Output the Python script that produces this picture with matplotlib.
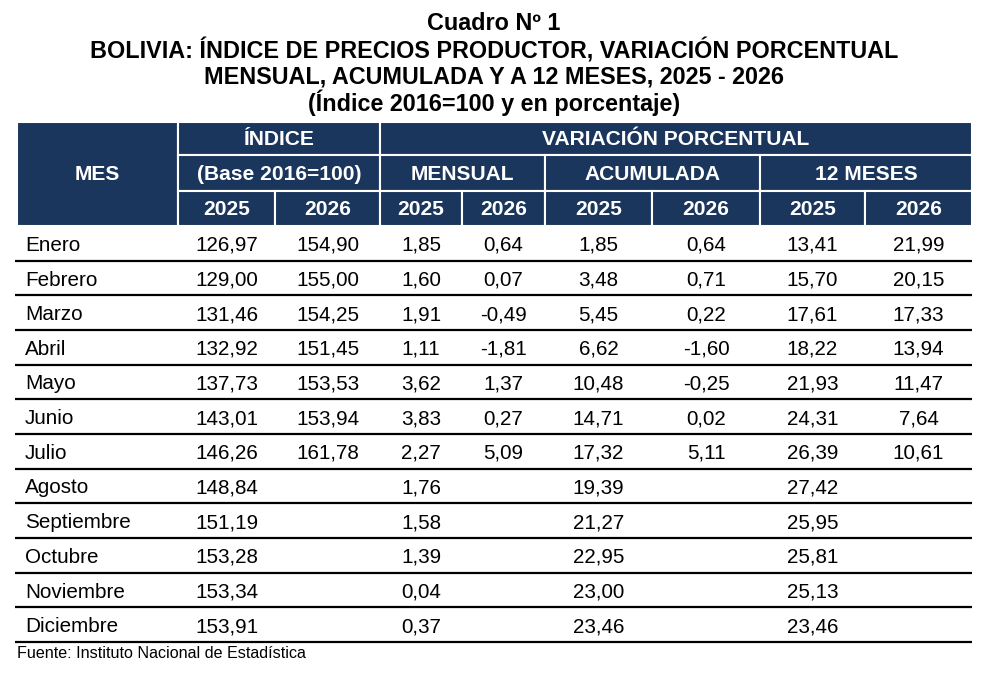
import matplotlib.pyplot as plt
from matplotlib.patches import Rectangle
from matplotlib import font_manager

# datos del cuadro
meses = ["Enero", "Febrero", "Marzo", "Abril", "Mayo", "Junio", "Julio",
         "Agosto", "Septiembre", "Octubre", "Noviembre", "Diciembre"]
indice_2025 = [126.97, 129.00, 131.46, 132.92, 137.73, 143.01, 146.26,
               148.84, 151.19, 153.28, 153.34, 153.91]
indice_2026 = [154.90, 155.00, 154.25, 151.45, 153.53, 153.94, 161.78,
               None, None, None, None, None]
mensual_2025 = [1.85, 1.60, 1.91, 1.11, 3.62, 3.83, 2.27, 1.76, 1.58, 1.39, 0.04, 0.37]
mensual_2026 = [0.64, 0.07, -0.49, -1.81, 1.37, 0.27, 5.09,
                None, None, None, None, None]
acumulada_2025 = [1.85, 3.48, 5.45, 6.62, 10.48, 14.71, 17.32,
                  19.39, 21.27, 22.95, 23.00, 23.46]
acumulada_2026 = [0.64, 0.71, 0.22, -1.60, -0.25, 0.02, 5.11,
                  None, None, None, None, None]
doce_2025 = [13.41, 15.70, 17.61, 18.22, 21.93, 24.31, 26.39,
             27.42, 25.95, 25.81, 25.13, 23.46]
doce_2026 = [21.99, 20.15, 17.33, 13.94, 11.47, 7.64, 10.61,
             None, None, None, None, None]

titulo = ["Cuadro Nº 1",
          "BOLIVIA: ÍNDICE DE PRECIOS PRODUCTOR, VARIACIÓN PORCENTUAL",
          "MENSUAL, ACUMULADA Y A 12 MESES, 2025 - 2026",
          "(Índice 2016=100 y en porcentaje)"]
fuente = "Fuente: Instituto Nacional de Estadística"

columnas = [indice_2025, indice_2026, mensual_2025, mensual_2026,
            acumulada_2025, acumulada_2026, doce_2025, doce_2026]

AZUL = "#1b365d"
names = {f.name for f in font_manager.fontManager.ttflist}
narrow = "Liberation Sans Narrow" if "Liberation Sans Narrow" in names else None
plt.rcParams["font.family"] = ["Liberation Sans", "DejaVu Sans"]


def fmt(v):
    if v is None:
        return ""
    return f"{v:.2f}".replace(".", ",")


W, H = 984, 676
fig = plt.figure(figsize=(W / 100, H / 100), dpi=100)
ax = fig.add_axes([0, 0, 1, 1])
ax.set_xlim(0, W)
ax.set_ylim(H, 0)
ax.axis("off")

# titulo
tfam = [narrow, "Liberation Sans"] if narrow else ["Liberation Sans"]
tfs = 19 if narrow else 16.8
for y, t in zip([23, 51, 77, 103], titulo):
    ax.text(494, y, t, ha="center", va="center", fontsize=tfs,
            fontweight="bold", family=tfam)

x_edges = [17, 178, 275, 380, 462, 545, 652, 760, 865, 972]
y_head = [122, 155, 191, 226]
row_h = (642 - 226) / 12
FS = 14.9
FS_H = 15.1


def cell(x0, x1, y0, y1, txt):
    ax.add_patch(Rectangle((x0, y0), x1 - x0, y1 - y0, facecolor=AZUL,
                           edgecolor="white", linewidth=1.5))
    ax.text((x0 + x1) / 2, (y0 + y1) / 2 + 1, txt, ha="center", va="center",
            color="white", fontsize=FS_H, fontweight="bold")


# encabezado
cell(x_edges[0], x_edges[1], y_head[0], y_head[3], "MES")
cell(x_edges[1], x_edges[3], y_head[0], y_head[1], "ÍNDICE")
cell(x_edges[1], x_edges[3], y_head[1], y_head[2], "(Base 2016=100)")
cell(x_edges[3], x_edges[9], y_head[0], y_head[1], "VARIACIÓN PORCENTUAL")
for i, lab in zip([3, 5, 7], ["MENSUAL", "ACUMULADA", "12 MESES"]):
    cell(x_edges[i], x_edges[i + 2], y_head[1], y_head[2], lab)
for j in range(1, 9):
    cell(x_edges[j], x_edges[j + 1], y_head[2], y_head[3],
         "2025" if j % 2 == 1 else "2026")

# filas
for i, mes in enumerate(meses):
    y0 = y_head[3] + i * row_h
    yc = y0 + row_h / 2 + 2
    ax.text(25, yc, mes, ha="left", va="center", fontsize=FS)
    for j, col in enumerate(columnas):
        xc = (x_edges[j + 1] + x_edges[j + 2]) / 2
        ax.text(xc, yc, fmt(col[i]), ha="center", va="center", fontsize=FS)
    ax.plot([15, 972], [y0 + row_h, y0 + row_h], color="black", lw=1.6,
            solid_capstyle="butt")

ax.text(17, 654, fuente, ha="left", va="center", fontsize=11.6)

fig.savefig("out.png", dpi=100)
